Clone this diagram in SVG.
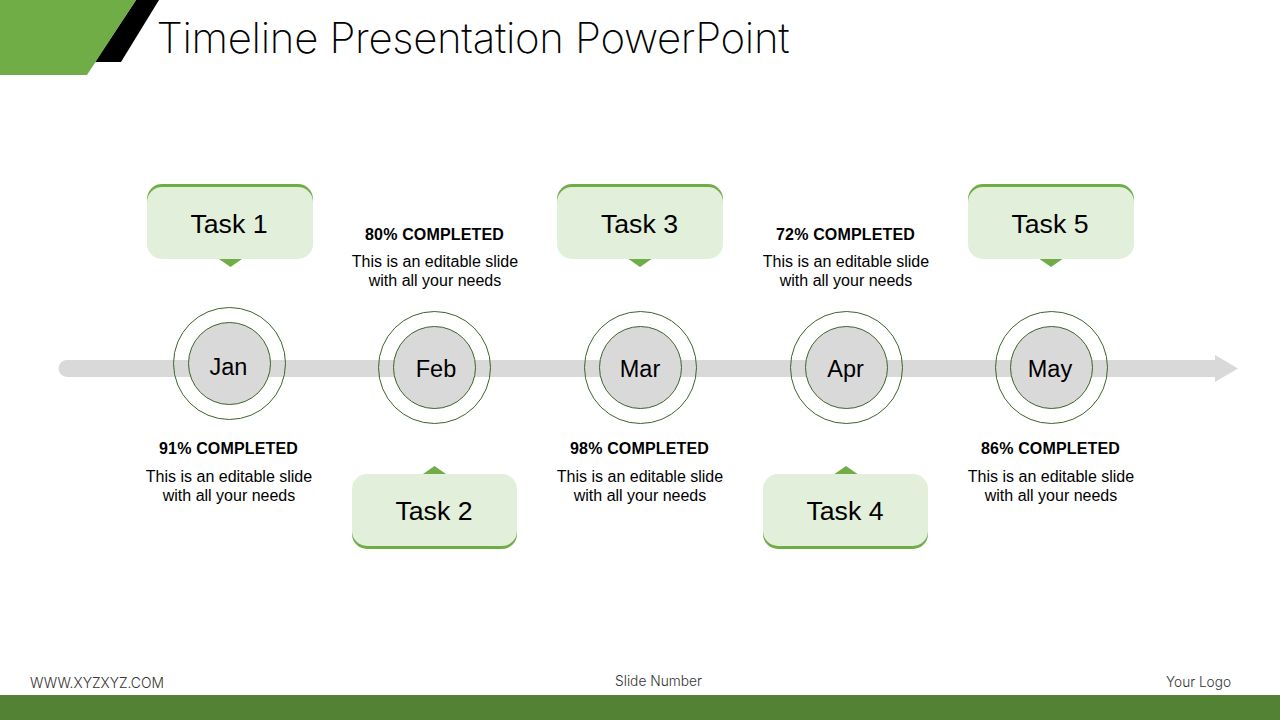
<svg xmlns="http://www.w3.org/2000/svg" width="1280" height="720" viewBox="0 0 1280 720">
<style>
text{font-family:"Liberation Sans",Arial,sans-serif;fill:#000;text-anchor:middle}
.rb{font-family:Inter,Roboto,"Liberation Sans",sans-serif;font-weight:300}
.title{font-size:42px;text-anchor:start;font-weight:200}
.foot{font-size:14px;fill:#333}
.task{font-size:26.700px}
.month{font-size:23.500px}
.pct{font-size:16px;font-weight:700;letter-spacing:.15px}
.desc{font-size:16px}
.ring{fill:none;stroke:#3f6329;stroke-width:1}
.core{fill:#d9d9d9;stroke:#3f6329;stroke-width:1}
.box{fill:#e2efda}
.accent{fill:#70ad47}
</style>
<rect width="1280" height="720" fill="#fff"/>
<g id="header">
<polygon points="136,0 159,0 121,62 95,62" fill="#000"/>
<polygon points="0,0 136,0 87,75 0,75" fill="#70ad47"/>
<text class="rb title" x="156.500" y="53" textLength="633" lengthAdjust="spacing">Timeline Presentation PowerPoint</text>
</g>
<g id="connectors">
<path d="M67 360H1215V355L1238 368.500L1215 382V377H67A8.500 8.500 0 0 1 67 360Z" fill="#d9d9d9"/>
</g>
<g id="node-jan"><circle class="ring" cx="229.500" cy="363.500" r="56"/><circle class="core" cx="229.500" cy="363.500" r="41"/><text class="month" x="228.500" y="374.500">Jan</text></g>
<g id="node-feb"><circle class="ring" cx="434.500" cy="367.500" r="56"/><circle class="core" cx="434.500" cy="367.500" r="41"/><text class="month" x="436" y="377">Feb</text></g>
<g id="node-mar"><circle class="ring" cx="640.500" cy="367.500" r="56"/><circle class="core" cx="640.500" cy="367.500" r="41"/><text class="month" x="640" y="377">Mar</text></g>
<g id="node-apr"><circle class="ring" cx="846.500" cy="367.500" r="56"/><circle class="core" cx="846.500" cy="367.500" r="41"/><text class="month" x="845.500" y="377">Apr</text></g>
<g id="node-may"><circle class="ring" cx="1051.500" cy="367.500" r="56"/><circle class="core" cx="1051.500" cy="367.500" r="41"/><text class="month" x="1050" y="377">May</text></g>
<g id="task-1"><polygon class="accent" points="219,259 242,259 230.500,267"/><rect class="accent" x="147" y="184" width="166" height="40" rx="15"/><rect class="box" x="147" y="187" width="166" height="72" rx="15"/><text class="task" x="229" y="232.500">Task 1</text></g>
<g id="task-3"><polygon class="accent" points="628.500,259 651.500,259 640,267"/><rect class="accent" x="557" y="184" width="166" height="40" rx="15"/><rect class="box" x="557" y="187" width="166" height="72" rx="15"/><text class="task" x="639.500" y="232.500">Task 3</text></g>
<g id="task-5"><polygon class="accent" points="1039.500,259 1062.500,259 1051,267"/><rect class="accent" x="968" y="184" width="166" height="40" rx="15"/><rect class="box" x="968" y="187" width="166" height="72" rx="15"/><text class="task" x="1050" y="232.500">Task 5</text></g>
<g id="task-2"><polygon class="accent" points="423,474 446,474 434.500,466"/><rect class="accent" x="352" y="509" width="165" height="40" rx="15"/><rect class="box" x="352" y="474" width="165" height="72" rx="15"/><text class="task" x="434" y="519.500">Task 2</text></g>
<g id="task-4"><polygon class="accent" points="834.500,474 857.500,474 846,466"/><rect class="accent" x="763" y="509" width="165" height="40" rx="15"/><rect class="box" x="763" y="474" width="165" height="72" rx="15"/><text class="task" x="845" y="519.500">Task 4</text></g>
<g id="note-jan"><text class="pct" x="228.500" y="454">91% COMPLETED</text><text class="desc" x="229" y="482">This is an editable slide</text><text class="desc" x="229" y="501">with all your needs</text></g>
<g id="note-feb"><text class="pct" x="434.500" y="240">80% COMPLETED</text><text class="desc" x="435" y="267">This is an editable slide</text><text class="desc" x="435" y="286">with all your needs</text></g>
<g id="note-mar"><text class="pct" x="639.500" y="454">98% COMPLETED</text><text class="desc" x="640" y="482">This is an editable slide</text><text class="desc" x="640" y="501">with all your needs</text></g>
<g id="note-apr"><text class="pct" x="845.500" y="240">72% COMPLETED</text><text class="desc" x="846" y="267">This is an editable slide</text><text class="desc" x="846" y="286">with all your needs</text></g>
<g id="note-may"><text class="pct" x="1050.500" y="454">86% COMPLETED</text><text class="desc" x="1051" y="482">This is an editable slide</text><text class="desc" x="1051" y="501">with all your needs</text></g>
<g id="footer">
<rect x="0" y="695" width="1280" height="25" fill="#548235"/>
<text class="rb foot" x="97" y="688" textLength="134" lengthAdjust="spacingAndGlyphs">WWW.XYZXYZ.COM</text>
<text class="rb foot" x="658.500" y="686" textLength="87" lengthAdjust="spacingAndGlyphs">Slide Number</text>
<text class="rb foot" x="1198.500" y="687" textLength="65" lengthAdjust="spacingAndGlyphs">Your Logo</text>
</g>
</svg>
